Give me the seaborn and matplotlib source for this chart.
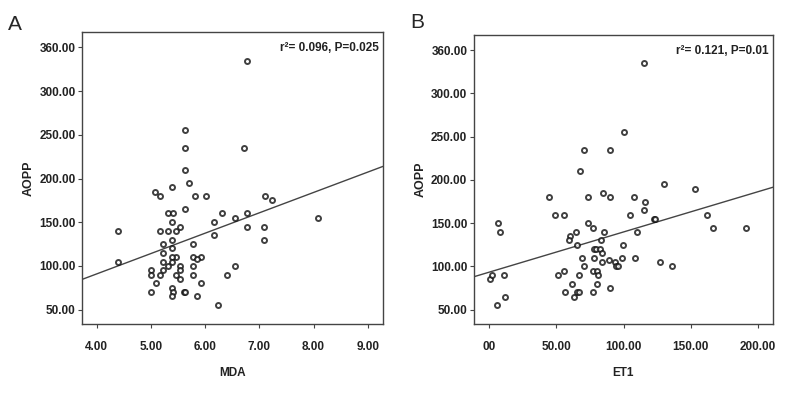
import numpy as np
import pandas as pd
import matplotlib
matplotlib.use("Agg")
import matplotlib.pyplot as plt
import seaborn as sns

# Panel A: MDA vs AOPP
mda = [6.78, 5.63, 5.63, 6.71, 5.63, 5.70, 5.39, 5.08, 5.16, 5.82, 6.01, 7.11, 7.24,
       5.63, 5.31, 5.41, 6.32, 6.78, 6.56, 8.08, 4.39, 5.16, 5.32, 5.47, 5.39, 5.54,
       6.16, 6.78, 7.09, 6.16, 5.39, 7.09, 5.23, 5.78, 5.39, 5.23, 5.78, 5.47, 5.39,
       5.93, 5.86, 4.39, 5.23, 5.39, 5.32, 5.54, 5.78, 6.56, 5.01, 5.23, 5.54, 5.01,
       5.16, 5.47, 5.78, 6.40, 5.09, 5.93, 5.54, 5.39, 5.01, 5.41, 5.61, 5.63, 5.39,
       5.86, 6.24]
aopp_a = [335, 255, 235, 235, 210, 195, 190, 185, 180, 180, 180, 180, 175,
          165, 160, 160, 160, 160, 155, 155, 140, 140, 140, 140, 150, 145,
          150, 145, 145, 135, 130, 130, 125, 125, 120, 115, 110, 110, 110,
          110, 108, 105, 105, 105, 100, 100, 100, 100, 95, 95, 95, 90,
          90, 90, 90, 90, 80, 80, 85, 75, 70, 70, 70, 70, 65,
          65, 55]

# Panel B: ET1 vs AOPP
et1 = [115.5, 100.4, 70.6, 90.2, 67.9, 129.9, 153.4, 84.5, 44.6, 73.6, 90.2, 107.8, 116.2,
       48.8, 55.8, 104.6, 115.2, 161.8, 122.7, 123.2, 6.9, 73.6, 8.2, 77.6, 166.5, 190.6,
       64.4, 85.3, 109.8, 60.5, 59.5, 83.5, 65.4, 99.4, 78.3, 79.8, 82.5, 84.0, 69.4,
       78.3, 98.6, 108.6, 89.0, 84.0, 93.7, 126.9, 0.5, 2.2, 11.2, 6.2, 11.9, 70.6,
       94.7, 95.7, 136.3, 51.1, 55.8, 77.3, 80.0, 81.0, 66.9, 61.5, 80.5, 89.7, 56.3,
       65.7, 66.7, 77.3, 63.2]
aopp_b = [335, 255, 235, 235, 210, 195, 190, 185, 180, 180, 180, 180, 175,
          160, 160, 160, 165, 160, 155, 155, 150, 150, 140, 145, 145, 145,
          140, 140, 140, 135, 130, 130, 125, 125, 120, 120, 120, 115, 110,
          110, 110, 110, 108, 105, 105, 105, 85, 90, 90, 55, 65, 100,
          100, 100, 100, 90, 95, 95, 95, 90, 90, 80, 80, 75, 70,
          70, 70, 70, 65]

y_ticks = [50, 100, 150, 200, 250, 300, 350]
y_labels = ["50.00", "100.00", "150.00", "200.00", "250.00", "300.00", "360.00"]
a_xticks = [4, 5, 6, 7, 8, 9]
a_xlabels = ["4.00", "5.00", "6.00", "7.00", "8.00", "9.00"]
b_xticks = [0, 50, 100, 150, 200]
b_xlabels = ["00", "50.00", "100.00", "150.00", "200.00"]

sns.set_style("white")
plt.rcParams['font.family'] = ['Liberation Sans', 'DejaVu Sans']

fig = plt.figure(figsize=(7.92, 4.0), dpi=100)
ax_a = fig.add_axes([0.1035, 0.19, 0.380, 0.73])
ax_b = fig.add_axes([0.598, 0.19, 0.378, 0.723])

panels = [
    (ax_a, mda, aopp_a, (3.73, 9.28), a_xticks, a_xlabels, "MDA", "r²= 0.096, P=0.025", "A"),
    (ax_b, et1, aopp_b, (-11.4, 211), b_xticks, b_xlabels, "ET1", "r²= 0.121, P=0.01", "B"),
]

for ax, xv, yv, xlim, xt, xl, xname, note, letter in panels:
    df = pd.DataFrame({xname: xv, "AOPP": yv})
    ax.set_xlim(*xlim)
    ax.set_ylim(33.5, 367.7)
    sns.regplot(data=df, x=xname, y="AOPP", ax=ax, ci=None, truncate=False,
                scatter_kws=dict(s=13, facecolors="white", edgecolors="#111111",
                                 linewidths=1.4, zorder=3),
                line_kws=dict(color="#444444", lw=1.0, zorder=2))
    ax.set_xlim(*xlim)
    ax.set_ylim(33.5, 367.7)
    ax.set_xticks(xt)
    ax.set_xticklabels(xl)
    ax.set_yticks(y_ticks)
    ax.set_yticklabels(y_labels)
    ax.tick_params(axis="both", direction="out", length=3, width=0.8, color="#444444",
                   labelsize=8.5, labelcolor="#222222", bottom=True, left=True, pad=1.5)
    ax.tick_params(axis="x", pad=9)
    for lab in ax.get_xticklabels() + ax.get_yticklabels():
        lab.set_fontweight("bold")
    for sp in ax.spines.values():
        sp.set_color("#444444")
        sp.set_linewidth(1.0)
    ax.set_xlabel(xname, fontsize=8.5, fontweight="bold", color="#222222", labelpad=10)
    ax.set_ylabel("AOPP", fontsize=9, fontweight="bold", color="#222222", labelpad=3)
    ax.text(0.985, 0.965, note, transform=ax.transAxes, ha="right", va="top",
            fontsize=8.5, fontweight="bold", color="#222222")

fig.text(0.01, 0.94, "A", fontsize=15, ha="left", va="center")
fig.text(0.518, 0.945, "B", fontsize=15, ha="left", va="center")

fig.savefig("out.png", dpi=100)
